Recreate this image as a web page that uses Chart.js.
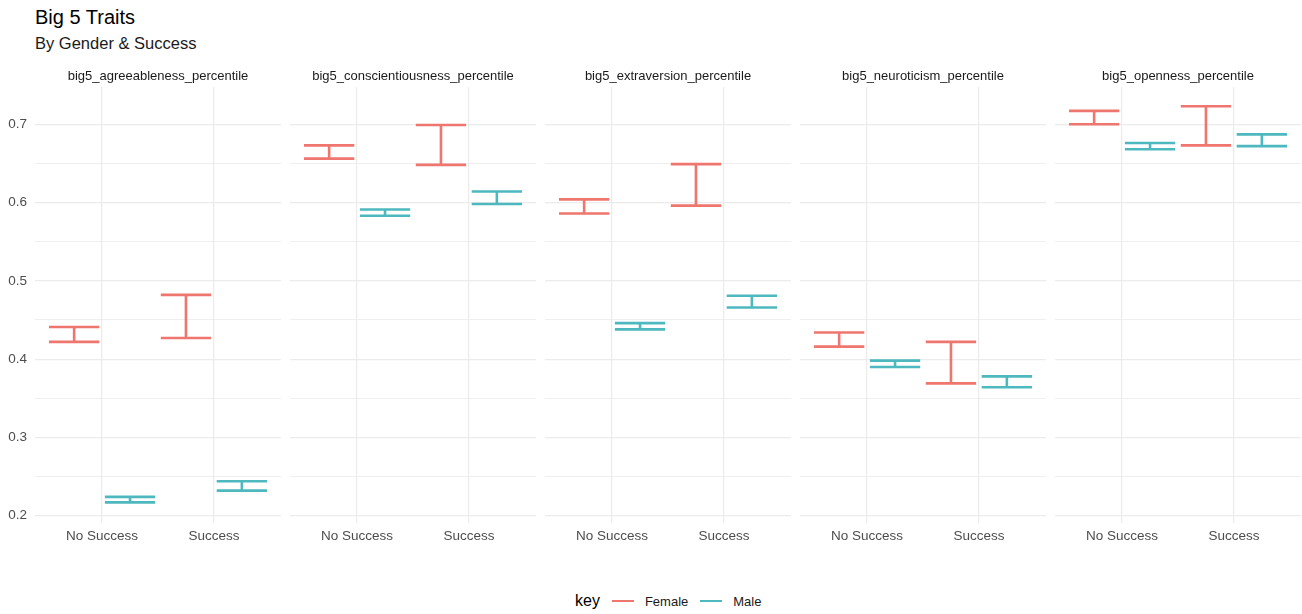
<!DOCTYPE html>
<html><head><meta charset="utf-8">
<script src="https://cdn.jsdelivr.net/npm/chart.js@4/dist/chart.umd.min.js"></script>
<style>
body{margin:0;width:1302px;height:614px;background:#fff;position:relative;overflow:hidden;font-family:"Liberation Sans",Arial,Helvetica,sans-serif}
#title{position:absolute;left:35px;top:6px;font-size:20px;color:#000;white-space:nowrap}
#subtitle{position:absolute;left:35px;top:34px;font-size:16.5px;color:#1a1a1a;white-space:nowrap}
canvas{position:absolute}
#legend{position:absolute;left:575px;top:590px;height:22px;display:flex;align-items:center;white-space:nowrap}
#legend .key{font-size:16px;color:#000;margin-right:12px}
#legend .sw{display:inline-block;width:22px;height:2.5px;margin-right:11px}
#legend .lab{font-size:13px;color:#1a1a1a;margin-right:12px}
</style></head>
<body>
<div id="title">Big 5 Traits</div>
<div id="subtitle">By Gender &amp; Success</div>
<div id="legend"></div>
<script>
const categories = ['No Success', 'Success'];
const traits = ['big5_agreeableness_percentile', 'big5_conscientiousness_percentile', 'big5_extraversion_percentile', 'big5_neuroticism_percentile', 'big5_openness_percentile'];
const genders = ['Female', 'Male'];
// per trait: [No Success, Success]
const femaleLower = [[0.422, 0.427], [0.656, 0.648], [0.586, 0.596], [0.416, 0.369], [0.700, 0.673]];
const femaleUpper = [[0.441, 0.482], [0.673, 0.699], [0.604, 0.649], [0.434, 0.422], [0.717, 0.723]];
const maleLower = [[0.217, 0.232], [0.583, 0.598], [0.438, 0.466], [0.390, 0.364], [0.668, 0.672]];
const maleUpper = [[0.224, 0.244], [0.591, 0.614], [0.446, 0.481], [0.398, 0.378], [0.676, 0.687]];
const yMajorTicks = [0.2, 0.3, 0.4, 0.5, 0.6, 0.7];
const yMinorTicks = [0.25, 0.35, 0.45, 0.55, 0.65];

const colors = {Female: '#EE766E', Male: '#4DB9BF'};
const PANEL_LEFT = [35, 290, 545, 800, 1055];
const PANEL_W = 246, CANVAS_TOP = 62, Y_AXIS_W = 35;
const CANVAS_H = 491;
const FONT = '"Liberation Sans", Arial, sans-serif';

function errorBarPoints(lower, upper, offset) {
  const hw = 0.225, pts = [];
  categories.forEach((c, i) => {
    const x = i + 1 + offset;
    pts.push({x: x - hw, y: upper[i]}, {x: x + hw, y: upper[i]}, {x: null, y: null},
             {x: x, y: upper[i]}, {x: x, y: lower[i]}, {x: null, y: null},
             {x: x - hw, y: lower[i]}, {x: x + hw, y: lower[i]}, {x: null, y: null});
  });
  return pts;
}

const allY = [...yMajorTicks, ...yMinorTicks].sort((a, b) => a - b);

traits.forEach((trait, p) => {
  const first = p === 0;
  const cv = document.createElement('canvas');
  const w = PANEL_W + (first ? Y_AXIS_W : 0);
  cv.width = w; cv.height = CANVAS_H;
  cv.style.left = (PANEL_LEFT[p] - (first ? Y_AXIS_W : 0)) + 'px';
  cv.style.top = CANVAS_TOP + 'px';
  cv.style.width = w + 'px'; cv.style.height = CANVAS_H + 'px';
  document.body.appendChild(cv);
  const datasets = [
    {label: 'Female', data: errorBarPoints(femaleLower[p], femaleUpper[p], -0.25), borderColor: colors.Female},
    {label: 'Male', data: errorBarPoints(maleLower[p], maleUpper[p], 0.25), borderColor: colors.Male}
  ].map(d => Object.assign(d, {showLine: true, spanGaps: false, pointRadius: 0, pointHoverRadius: 0, borderWidth: 2.6, borderCapStyle: 'butt', fill: false, tension: 0}));
  new Chart(cv, {
    type: 'line',
    data: {datasets},
    options: {
      responsive: false, animation: false, events: [],
      layout: {padding: 0},
      plugins: {
        legend: {display: false}, tooltip: {enabled: false},
        title: {display: true, text: trait, fullSize: false, color: '#1a1a1a',
                font: {family: FONT, size: 13, weight: 'normal'},
                padding: {top: 6.5, bottom: 2.9}}
      },
      scales: {
        x: {type: 'linear', min: 0.4, max: 2.6,
            afterBuildTicks: s => { s.ticks = categories.map((c, i) => ({value: i + 1})); },
            ticks: {callback: v => categories[v - 1], color: '#4D4D4D', padding: 5, autoSkip: false, maxRotation: 0,
                    font: {family: FONT, size: 13.5}},
            grid: {color: '#EBEBEB', lineWidth: 1.2, drawTicks: false},
            border: {display: false},
            afterFit: s => { s.height = 30; }},
        y: {type: 'linear', min: 0.1907, max: 0.7475,
            afterBuildTicks: s => { s.ticks = allY.map(v => ({value: v})); },
            ticks: {display: first, color: '#4D4D4D', padding: 8, autoSkip: false,
                    callback: v => yMajorTicks.includes(v) ? v.toFixed(1) : '',
                    font: {family: FONT, size: 13.5}},
            grid: {color: '#EBEBEB', drawTicks: false,
                   lineWidth: ctx => (ctx.tick && yMajorTicks.includes(ctx.tick.value)) ? 1.2 : 0.8},
            border: {display: false},
            afterFit: s => { s.width = first ? Y_AXIS_W : 0; }}
      }
    }
  });
});

const lg = document.getElementById('legend');
lg.innerHTML = '<span class="key">key</span>' + genders.map(g =>
  '<span class="sw" style="background:' + colors[g] + '"></span><span class="lab">' + g + '</span>').join('');
</script>
</body></html>
